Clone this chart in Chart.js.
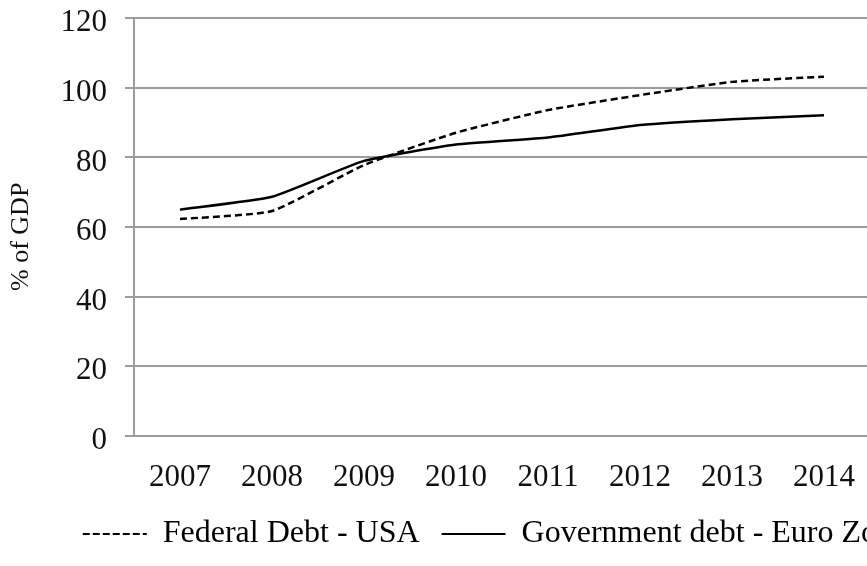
<!DOCTYPE html>
<html>
<head>
<meta charset="utf-8">
<script src="https://cdn.jsdelivr.net/npm/chart.js@4.4.1/dist/chart.umd.min.js"></script>
<style>
  html, body { margin: 0; padding: 0; background: #fff; overflow: hidden; }
  #wrap { width: 867px; height: 566px; overflow: hidden; }
</style>
</head>
<body>
<div id="wrap">
  <canvas id="debtChart" width="990" height="566"></canvas>
</div>
<script>
const years = ['2007', '2008', '2009', '2010', '2011', '2012', '2013', '2014'];
const federalDebtUSA = [62.3, 64.6, 77.8, 87.1, 93.6, 97.9, 101.7, 103.2];
const govDebtEuroZone = [65.0, 68.7, 79.0, 83.7, 85.7, 89.3, 91.0, 92.1];
const yTicks = [0, 20, 40, 60, 80, 100, 120];

const serif = 'Liberation Serif, Times New Roman, serif';
const gridGray = '#9c9c9c';

// nudge the y tick labels down a little so the digits sit centred on their gridlines
const yLabelNudge = {
    id: 'yLabelNudge',
    beforeDraw(c) {
        const items = c.scales.y.getLabelItems();
        if (items._nudged) return;
        items.forEach(it => { it.options.translation[1] += 5; });
        items._nudged = true;
    }
};

const ctx = document.getElementById('debtChart').getContext('2d');
const chart = new Chart(ctx, {
    type: 'line',
    data: {
        labels: years,
        datasets: [
            {
                label: 'Federal Debt - USA',
                data: federalDebtUSA,
                borderColor: '#000',
                backgroundColor: '#000',
                borderWidth: 2.5,
                borderDash: [7, 4],
                pointRadius: 0,
                tension: 0.15,
                fill: false
            },
            {
                label: 'Government debt - Euro Zone',
                data: govDebtEuroZone,
                borderColor: '#000',
                backgroundColor: '#000',
                borderWidth: 2.5,
                pointRadius: 0,
                tension: 0.15,
                fill: false
            }
        ]
    },
    plugins: [yLabelNudge],
    options: {
        responsive: false,
        animation: false,
        layout: {
            padding: { top: 0, left: 0, right: 0, bottom: 6 }
        },
        plugins: {
            tooltip: { enabled: false },
            title: { display: false },
            legend: {
                position: 'bottom',
                labels: {
                    usePointStyle: true,
                    pointStyle: 'line',
                    pointStyleWidth: 64,
                    padding: 22,
                    color: '#000',
                    font: { family: serif, size: 32 },
                    // point-style legend items lose the dash, so copy it back from the dataset
                    generateLabels: (c) => {
                        const items = Chart.defaults.plugins.legend.labels.generateLabels(c);
                        items.forEach((item) => {
                            const ds = c.data.datasets[item.datasetIndex];
                            item.lineDash = ds.borderDash ? [7, 3] : [];
                            item.lineWidth = 2;
                        });
                        return items;
                    }
                }
            }
        },
        scales: {
            x: {
                type: 'category',
                offset: true,
                afterFit: (scale) => {
                    scale.height = 60;
                },
                grid: { display: false, drawTicks: false },
                border: { display: true, color: gridGray, width: 2 },
                ticks: {
                    color: '#111',
                    padding: 23,
                    maxRotation: 0,
                    font: { family: serif, size: 31 }
                }
            },
            y: {
                min: 0,
                max: 120,
                afterBuildTicks: (scale) => {
                    scale.ticks = yTicks.map(v => ({ value: v }));
                },
                afterFit: (scale) => {
                    scale.width = 134;
                },
                grid: {
                    color: gridGray,
                    lineWidth: 2,
                    drawTicks: true,
                    tickLength: 9
                },
                border: { display: true, color: gridGray, width: 2 },
                ticks: {
                    color: '#111',
                    padding: 18,
                    // tiny line height so the top label does not push the plot down
                    font: { family: serif, size: 31, lineHeight: 0.01 }
                },
                title: {
                    display: true,
                    text: '% of GDP   ',
                    color: '#111',
                    padding: { top: 6, bottom: 0 },
                    font: { family: serif, size: 26 }
                }
            },
            // empty right-hand axis that only reserves space beside the plot
            spacer: {
                type: 'linear',
                position: 'right',
                display: true,
                grid: { display: false, drawTicks: false },
                border: { display: false },
                ticks: { display: false },
                afterFit: (scale) => {
                    scale.width = 120;
                }
            }
        }
    }
});
</script>
</body>
</html>
